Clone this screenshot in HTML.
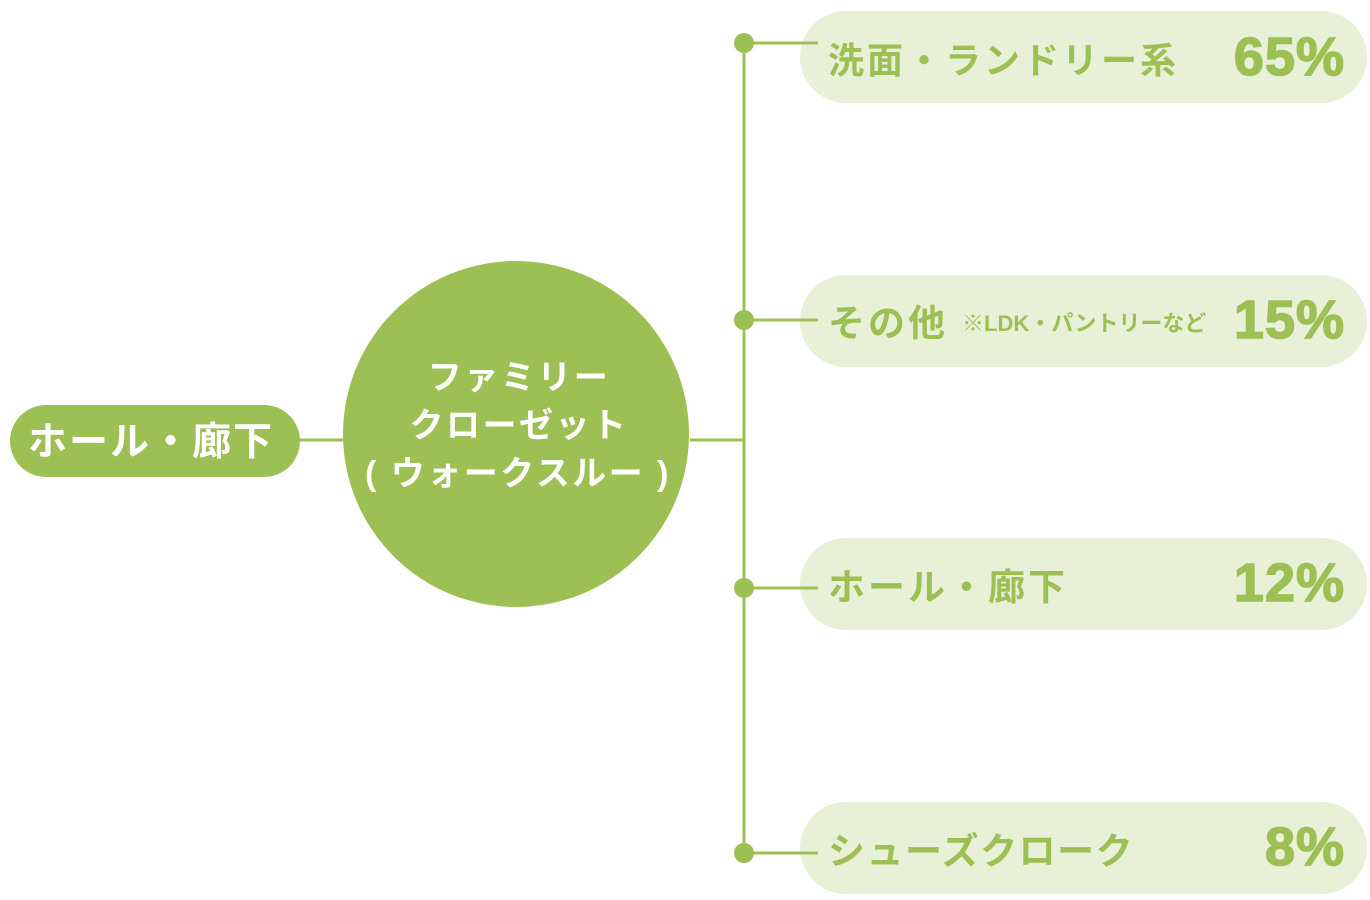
<!DOCTYPE html>
<html><head><meta charset="utf-8"><style>
html,body{margin:0;padding:0;background:#fff;width:1370px;height:900px;overflow:hidden}
svg text{font-family:"Liberation Sans","Noto Sans CJK JP",sans-serif;font-weight:bold}
</style></head><body>
<svg width="1370" height="900" viewBox="0 0 1370 900">
<g fill="#e8f0d8">
<rect x="800" y="11" width="567" height="92" rx="46"/>
<rect x="800" y="275" width="567" height="92" rx="46"/>
<rect x="800" y="538" width="567" height="92" rx="46"/>
<rect x="800" y="802" width="567" height="92" rx="46"/>
</g>
<g stroke="#9cc053" stroke-width="3" fill="none">
<line x1="744" y1="43" x2="744" y2="853"/>
<line x1="744" y1="43" x2="818" y2="43"/>
<line x1="744" y1="320" x2="818" y2="320"/>
<line x1="744" y1="588" x2="818" y2="588"/>
<line x1="744" y1="853" x2="818" y2="853"/>
<line x1="690" y1="440" x2="744" y2="440"/>
<line x1="298" y1="440" x2="345" y2="440"/>
</g>
<g fill="#9cc053">
<circle cx="744" cy="43" r="10"/><circle cx="744" cy="320" r="10"/>
<circle cx="744" cy="588" r="10"/><circle cx="744" cy="853" r="10"/>
<circle cx="516" cy="434" r="173"/>
<rect x="10" y="405" width="290" height="72" rx="36"/>
</g>
<g fill="#fff" font-size="34" text-anchor="middle" letter-spacing="2.5">
<text x="28" y="455" font-size="39" text-anchor="start" letter-spacing="2">ホール・廊下</text>
<text x="519" y="389">ファミリー</text>
<text x="519" y="437">クローゼット</text>
<text x="518" y="485">( ウォークスルー )</text>
</g>
<g fill="#9cc053" letter-spacing="3">
<text x="828" y="73" font-size="36">洗面・ランドリー系</text>
<text x="828" y="336" font-size="37">その他</text>
<text x="962" y="331" font-size="22" letter-spacing="0">※LDK・パントリーなど</text>
<text x="828" y="600" font-size="37">ホール・廊下</text>
<text x="828" y="864" font-size="37" letter-spacing="1.5">シューズクローク</text>
<g font-size="54" text-anchor="end" letter-spacing="1" stroke="#9cc053" stroke-width="1.5">
<text x="1345" y="75">65%</text>
<text x="1345" y="338">15%</text>
<text x="1345" y="601">12%</text>
<text x="1345" y="865">8%</text>
</g>
</g>
</svg>
</body></html>
